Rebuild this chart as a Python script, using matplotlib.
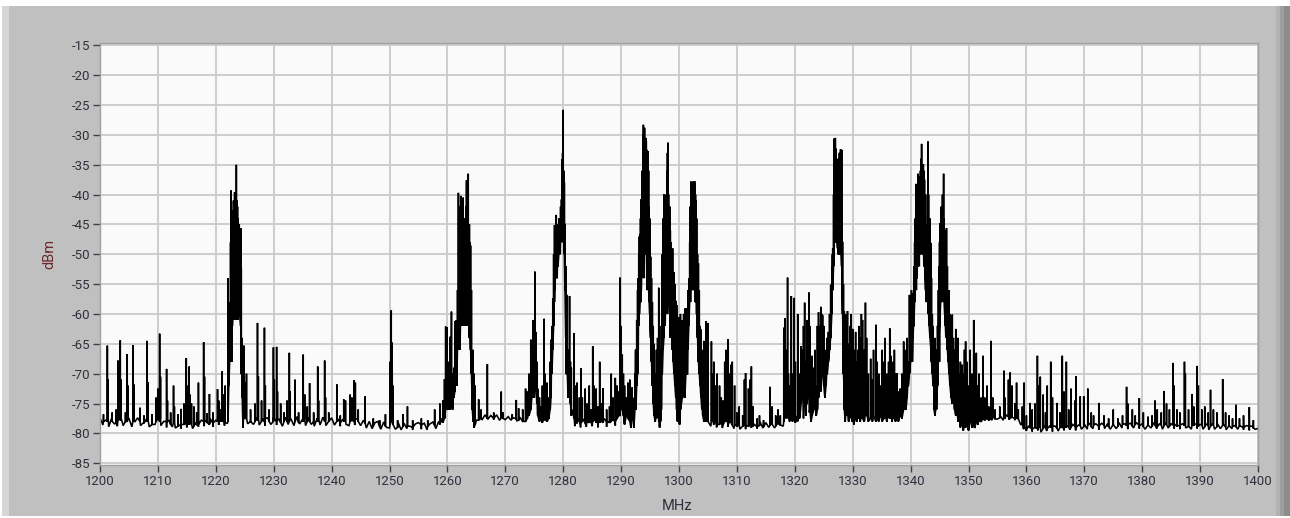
import numpy as np
import matplotlib.pyplot as plt
from matplotlib.patches import Rectangle

plt.rcParams["axes.unicode_minus"] = False

# noise floor / lower trace, one value every 0.5 MHz from 1200 to 1400
floor_start, floor_step = 1200.0, 0.5
floor_dbm = [
    -77.4, -78.6, -77.8, -78.9, -77.5, -78.4, -78.8, -77.6, -78.7, -78.0,
    -77.5, -78.9, -78.1, -77.4, -78.7, -78.2, -77.6, -78.9, -77.9, -78.5,
    -77.3, -78.7, -78.0, -79.0, -77.8, -78.9, -79.1, -78.0, -79.2, -78.4,
    -79.0, -77.9, -79.2, -78.2, -78.9, -77.8, -78.8, -78.0, -77.5, -78.9,
    -77.8, -78.6, -77.6, -78.7, -78.3, -66.0, -60.0, -60.5, -58.0, -70.0,
    -77.2, -78.4, -77.3, -78.5, -77.4, -78.6, -77.5, -78.7, -77.4, -78.5,
    -77.3, -78.6, -77.6, -78.8, -77.3, -78.5, -77.6, -78.7, -77.2, -78.4,
    -77.6, -78.7, -77.3, -78.5, -78.8, -77.5, -78.6, -77.3, -78.7, -77.6,
    -77.4, -78.6, -77.5, -78.8, -77.6, -78.5, -78.7, -77.5, -78.6, -77.7,
    -78.7, -77.8, -79.1, -78.0, -79.2, -78.2, -78.0, -79.3, -78.1, -79.0,
    -79.1, -78.0, -79.3, -78.2, -79.4, -78.3, -79.2, -78.8, -79.4, -78.4,
    -78.2, -79.3, -78.3, -79.4, -78.4, -78.1, -79.2, -78.0, -77.5, -74.0,
    -72.0, -70.0, -73.0, -66.0, -62.0, -60.0, -58.0, -62.0, -65.0, -74.0,
    -77.8, -77.0, -77.7, -76.9, -77.6, -77.0, -77.7, -76.9, -77.8, -77.1,
    -77.7, -77.2, -77.8, -77.4, -77.9, -77.3, -78.0, -77.6, -76.5, -75.0,
    -72.0, -73.0, -76.0, -77.0, -77.8, -74.0, -66.0, -58.0, -52.0, -50.0,
    -48.0, -60.0, -72.0, -76.0, -78.8, -77.5, -79.0, -77.6, -78.9, -77.7,
    -78.8, -77.6, -79.0, -77.8, -77.5, -78.9, -77.6, -77.4, -78.7, -77.2,
    -76.0, -77.5, -76.5, -78.0, -74.0, -66.0, -60.0, -56.0, -54.0, -56.0,
    -62.0, -68.0, -74.0, -78.0, -70.0, -62.0, -60.0, -64.0, -68.0, -72.0,
    -76.0, -74.0, -72.0, -70.0, -58.0, -55.0, -56.0, -66.0, -72.0, -76.0,
    -77.5, -78.8, -77.0, -79.0, -77.5, -79.1, -77.8, -78.9, -77.9, -79.2,
    -78.2, -79.3, -78.4, -79.3, -78.2, -79.1, -78.5, -79.2, -78.1, -79.1,
    -78.2, -79.0, -78.0, -79.1, -78.2, -77.8, -78.8, -77.5, -76.0, -77.5,
    -77.0, -78.0, -76.0, -77.5, -75.0, -76.5, -77.0, -74.0, -72.0, -73.0,
    -72.0, -70.0, -66.0, -50.0, -48.0, -50.0, -47.0, -72.0, -76.5, -77.5,
    -77.0, -76.0, -77.5, -76.5, -77.8, -77.0, -77.6, -77.2, -77.4, -76.5,
    -77.3, -76.8, -77.5, -77.0, -76.2, -77.2, -76.5, -77.0, -75.0, -72.0,
    -66.0, -62.0, -56.0, -52.0, -50.0, -54.0, -60.0, -66.0, -72.0, -76.0,
    -68.0, -58.0, -56.0, -64.0, -70.0, -74.0, -76.0, -77.5, -78.5, -77.6,
    -79.3, -77.8, -79.0, -77.4, -78.0, -77.0, -77.6, -77.1, -77.8, -77.0,
    -77.6, -77.1, -77.8, -76.9, -77.7, -77.0, -77.8, -77.4, -78.5, -79.3,
    -79.6, -78.7, -79.7, -78.8, -79.5, -79.8, -78.7, -79.6, -78.8, -79.7,
    -78.8, -79.6, -78.6, -79.5, -78.7, -79.4, -78.5, -79.5, -78.6, -79.3,
    -78.4, -79.3, -78.3, -79.2, -78.4, -79.4, -78.3, -79.2, -78.4, -79.3,
    -78.3, -79.2, -78.2, -79.1, -78.4, -79.3, -78.3, -79.1, -78.2, -79.2,
    -78.4, -79.3, -78.3, -79.1, -78.2, -79.2, -78.4, -79.3, -78.3, -79.1,
    -78.4, -79.2, -78.2, -79.3, -78.4, -79.1, -78.3, -79.3, -78.4, -79.2,
    -78.5, -79.3, -78.4, -79.4, -78.5, -79.3, -78.4, -79.2, -78.5, -79.4,
    -78.6, -79.2, -78.7, -79.3, -78.8, -79.4, -78.7, -79.5, -78.8, -79.3,
    -79.2,
]

# spikes: (MHz, peak dBm, base dBm)
spikes_1200 = [
    (1200.6, -76.8, -78.0), (1201.27, -65.3, -78.0), (1201.4, -71.0, -77.5), (1202.1, -76.5, -78.0),
    (1202.8, -76.0, -78.3), (1203.1, -67.8, -77.8), (1203.3, -71.5, -77.0), (1203.5, -64.4, -77.8),
    (1203.65, -71.0, -77.5), (1204.4, -76.5, -78.0), (1204.7, -66.7, -78.0), (1204.85, -72.0, -77.5),
    (1205.7, -65.2, -78.0), (1205.85, -71.8, -77.5), (1206.9, -75.7, -78.0), (1207.6, -77.0, -78.3),
    (1208.1, -64.5, -78.0), (1208.25, -71.4, -77.5), (1209.0, -76.8, -78.5), (1209.7, -74.0, -78.0),
    (1210.0, -72.5, -77.5), (1210.3, -63.3, -78.0), (1210.45, -70.5, -77.5), (1211.5, -69.2, -78.0),
    (1211.65, -74.5, -78.0), (1212.2, -76.5, -78.5), (1212.7, -72.0, -78.2), (1212.85, -75.5, -78.0),
    (1213.5, -76.8, -78.8), (1214.0, -75.9, -78.5), (1214.5, -75.0, -78.5), (1214.9, -67.4, -78.3),
    (1215.05, -74.0, -77.5), (1215.2, -72.0, -78.0), (1215.4, -68.8, -78.5), (1215.55, -73.5, -77.8),
    (1215.8, -75.0, -78.5), (1216.2, -75.5, -78.8), (1216.7, -76.5, -78.6), (1217.0, -71.5, -78.5),
    (1217.9, -64.7, -78.0), (1218.05, -70.5, -77.8), (1218.5, -76.6, -78.2), (1218.9, -73.4, -78.5),
    (1219.5, -76.5, -78.3), (1220.3, -72.6, -78.0), (1220.5, -74.5, -77.5), (1220.8, -76.0, -78.0),
    (1221.1, -69.6, -78.0), (1221.3, -73.5, -77.8), (1221.6, -72.0, -78.2),
]

band_1223 = [
    (1222.10, -54.0, -78.0), (1222.25, -66.0, -72.0), (1222.40, -58.0, -68.0), (1222.55, -48.0, -66.0),
    (1222.65, -39.3, -60.0), (1222.75, -44.0, -68.0), (1222.85, -42.6, -62.0), (1222.95, -47.0, -60.0),
    (1223.05, -41.0, -61.0), (1223.15, -45.0, -59.0), (1223.25, -39.6, -60.0), (1223.35, -44.0, -60.0),
    (1223.45, -40.0, -61.0), (1223.55, -35.0, -60.0), (1223.65, -41.0, -58.0), (1223.75, -42.0, -61.0),
    (1223.85, -44.0, -60.0), (1223.95, -47.0, -58.0), (1224.05, -45.0, -57.0), (1224.15, -48.0, -60.0),
    (1224.30, -45.6, -62.0), (1224.40, -52.4, -70.0), (1224.55, -64.0, -74.0), (1224.70, -72.0, -79.0),
    (1224.85, -65.3, -76.0), (1225.00, -71.5, -77.5), (1225.30, -70.0, -77.5),
]

spikes_1226 = [
    (1226.0, -76.0, -78.0), (1226.8, -75.0, -78.0), (1227.2, -61.5, -77.8), (1227.35, -70.5, -77.5),
    (1227.9, -74.5, -78.0), (1228.4, -62.3, -78.0), (1228.55, -72.0, -77.5), (1229.2, -76.0, -78.0),
    (1229.95, -65.6, -78.0), (1230.1, -71.0, -77.5), (1230.5, -65.5, -78.0), (1230.65, -73.0, -77.8),
    (1231.2, -75.0, -78.2), (1231.8, -76.5, -78.0), (1232.3, -74.5, -78.0), (1232.7, -66.5, -78.0),
    (1232.85, -73.0, -77.5), (1233.7, -71.0, -78.0), (1234.3, -76.5, -78.2), (1235.1, -66.8, -78.0),
    (1235.35, -73.5, -77.6), (1235.8, -75.5, -78.0), (1236.2, -71.6, -78.0), (1236.9, -76.5, -78.0),
    (1237.6, -68.8, -78.0), (1237.75, -74.5, -77.5), (1238.8, -67.8, -78.0), (1238.95, -74.0, -77.8),
    (1239.5, -76.5, -78.0), (1240.9, -71.8, -78.0), (1241.5, -77.0, -78.2), (1242.1, -74.3, -78.0),
    (1242.4, -74.5, -77.8), (1243.2, -73.5, -78.0), (1243.5, -74.0, -77.8), (1243.9, -71.1, -78.0),
    (1244.1, -71.5, -77.5), (1244.6, -76.0, -78.0), (1245.8, -73.8, -78.3), (1247.2, -77.5, -78.8),
    (1248.3, -77.8, -78.9), (1249.3, -76.8, -78.8), (1250.1, -68.0, -78.5), (1250.3, -59.4, -78.0),
    (1250.45, -64.8, -68.0), (1250.6, -72.0, -78.5), (1251.4, -77.8, -79.0), (1252.3, -76.8, -78.9),
    (1253.1, -75.5, -78.8), (1254.0, -77.8, -79.0), (1255.5, -77.5, -78.6), (1256.6, -77.8, -78.8),
    (1257.8, -76.0, -78.7), (1258.7, -75.0, -78.5),
]

band_1262 = [
    (1259.2, -74.5, -78.2), (1259.5, -70.9, -77.5), (1259.7, -62.1, -76.0), (1259.9, -62.2, -74.0),
    (1260.1, -68.0, -76.0), (1260.3, -71.0, -75.0), (1260.5, -63.8, -76.0), (1260.7, -59.6, -72.0),
    (1260.9, -70.0, -76.0), (1261.1, -69.0, -74.0), (1261.3, -61.2, -73.0), (1261.45, -61.1, -70.0),
    (1261.6, -68.0, -72.0), (1261.75, -56.0, -66.0), (1261.9, -39.7, -64.0), (1262.0, -48.0, -62.0),
    (1262.1, -45.0, -66.0), (1262.2, -42.0, -64.0), (1262.3, -40.2, -60.0), (1262.4, -47.2, -62.0),
    (1262.5, -45.0, -58.0), (1262.6, -46.6, -60.0), (1262.7, -40.5, -62.0), (1262.8, -48.0, -58.0),
    (1262.9, -46.0, -60.0), (1263.0, -44.0, -62.0), (1263.1, -47.0, -58.0), (1263.2, -42.0, -60.0),
    (1263.3, -37.6, -62.0), (1263.4, -45.0, -60.0), (1263.5, -42.0, -58.0), (1263.6, -36.5, -62.0),
    (1263.7, -46.0, -60.0), (1263.8, -45.0, -64.0), (1263.9, -48.0, -62.0), (1264.0, -48.5, -66.0),
    (1264.15, -56.0, -70.0), (1264.3, -66.9, -76.0), (1264.45, -66.0, -78.0), (1264.6, -70.0, -79.0),
    (1264.8, -72.0, -78.5), (1265.4, -74.3, -77.8), (1265.8, -76.0, -77.6), (1266.9, -68.4, -77.5),
    (1268.0, -76.5, -77.5), (1269.3, -73.0, -77.4), (1269.6, -76.5, -77.5), (1271.2, -76.8, -77.5),
    (1271.9, -74.4, -77.6), (1272.3, -75.8, -77.8), (1273.0, -76.0, -78.0),
]

band_1280 = [
    (1273.5, -72.5, -78.0), (1273.8, -73.0, -77.5), (1274.1, -70.0, -77.0), (1274.4, -64.3, -76.0),
    (1274.6, -70.0, -74.0), (1274.8, -61.0, -73.0), (1275.0, -66.0, -74.0), (1275.1, -52.9, -72.0),
    (1275.3, -63.0, -72.0), (1275.45, -68.0, -75.0), (1275.6, -72.5, -77.0), (1275.9, -74.0, -78.0),
    (1276.1, -75.5, -77.5), (1276.4, -72.0, -78.2), (1276.7, -60.8, -77.8), (1276.85, -70.0, -77.0),
    (1277.2, -71.5, -78.0), (1277.5, -74.0, -77.5), (1277.75, -68.0, -76.0), (1277.9, -64.3, -74.0),
    (1278.05, -62.0, -70.0), (1278.2, -57.4, -66.0), (1278.35, -50.0, -62.0), (1278.5, -45.1, -56.0),
    (1278.65, -46.0, -54.0), (1278.8, -43.4, -52.0), (1278.95, -45.0, -54.0), (1279.1, -47.0, -52.0),
    (1279.25, -44.0, -50.0), (1279.4, -45.0, -49.0), (1279.55, -42.0, -48.0), (1279.7, -40.8, -46.0),
    (1279.8, -34.1, -44.0), (1279.9, -33.0, -44.0), (1280.0, -25.8, -42.0), (1280.1, -36.0, -48.0),
    (1280.2, -38.0, -50.0), (1280.3, -44.9, -56.0), (1280.45, -52.0, -64.0), (1280.55, -60.0, -70.0),
    (1280.7, -56.8, -70.0), (1280.85, -66.0, -74.0), (1281.1, -57.0, -72.0), (1281.25, -68.0, -75.0),
    (1281.4, -69.0, -77.0), (1281.9, -63.2, -77.5), (1282.05, -72.0, -78.0), (1282.4, -71.5, -78.3),
    (1282.8, -74.0, -78.0), (1283.1, -69.1, -78.2), (1283.3, -74.0, -78.0), (1283.8, -72.5, -78.3),
    (1284.1, -75.0, -78.0), (1284.5, -72.0, -78.2), (1284.8, -76.0, -78.0), (1285.1, -65.4, -78.0),
    (1285.3, -72.0, -77.8), (1285.7, -72.5, -78.2), (1286.0, -75.5, -78.0), (1286.3, -68.0, -78.2),
    (1286.6, -75.0, -78.0), (1286.9, -72.4, -78.2), (1287.5, -76.0, -78.0), (1288.0, -75.5, -78.2),
    (1288.3, -70.0, -78.0), (1288.6, -74.0, -77.8), (1289.0, -70.7, -78.0), (1289.3, -72.0, -77.5),
    (1289.6, -73.0, -77.0), (1289.8, -53.9, -77.0), (1289.95, -62.0, -74.0), (1290.2, -66.8, -76.0),
    (1290.4, -70.0, -77.0), (1290.6, -72.0, -78.5), (1290.9, -74.0, -77.0), (1291.2, -71.5, -77.5),
    (1291.5, -71.0, -78.0), (1291.7, -73.0, -79.0), (1291.9, -72.3, -77.5), (1292.2, -75.0, -79.0),
    (1292.4, -70.0, -76.0),
]

band_1295 = [
    (1292.55, -66.0, -76.0), (1292.7, -61.0, -72.0), (1292.85, -56.0, -70.0), (1292.95, -54.0, -66.0),
    (1293.05, -50.0, -62.0), (1293.15, -47.0, -60.0), (1293.25, -46.7, -58.0), (1293.35, -44.0, -58.0),
    (1293.45, -40.8, -56.0), (1293.55, -42.0, -54.0), (1293.65, -36.0, -52.0), (1293.75, -30.0, -50.0),
    (1293.85, -28.3, -48.0), (1293.95, -29.5, -50.0), (1294.05, -28.8, -48.0), (1294.15, -32.0, -46.0),
    (1294.25, -30.5, -50.0), (1294.35, -31.0, -48.0), (1294.45, -32.5, -52.0), (1294.55, -33.5, -50.0),
    (1294.65, -32.7, -54.0), (1294.75, -36.0, -56.0), (1294.85, -42.0, -58.0), (1294.95, -44.0, -60.0),
    (1295.1, -50.4, -64.0), (1295.25, -54.0, -68.0), (1295.4, -58.0, -72.0), (1295.55, -62.0, -75.0),
    (1295.7, -65.0, -77.0), (1295.9, -70.0, -78.0), (1296.1, -66.0, -77.5), (1296.3, -64.0, -76.0),
    (1296.5, -55.6, -74.0), (1296.65, -66.0, -79.0), (1296.8, -72.0, -78.0), (1296.95, -62.0, -76.0),
    (1297.1, -50.0, -70.0), (1297.25, -44.0, -66.0), (1297.4, -39.9, -64.0), (1297.5, -45.0, -60.0),
    (1297.6, -44.5, -62.0), (1297.7, -48.0, -58.0), (1297.8, -40.0, -60.0), (1297.9, -36.0, -58.0),
    (1298.0, -33.0, -56.0), (1298.1, -31.3, -58.0), (1298.2, -40.0, -56.0), (1298.3, -44.0, -58.0),
    (1298.4, -42.0, -60.0), (1298.5, -46.0, -62.0), (1298.6, -48.0, -64.0), (1298.7, -50.0, -62.0),
    (1298.8, -52.0, -66.0), (1298.9, -49.0, -64.0), (1299.0, -54.0, -68.0), (1299.15, -53.0, -70.0),
    (1299.3, -55.0, -72.0), (1299.45, -57.8, -74.0), (1299.6, -58.5, -76.0), (1299.75, -64.0, -78.0),
    (1299.9, -60.5, -74.0), (1300.1, -66.0, -78.5), (1300.25, -60.0, -76.0), (1300.4, -64.0, -75.0),
    (1300.6, -61.0, -74.0), (1300.8, -60.0, -72.0), (1301.0, -59.1, -74.0), (1301.2, -59.0, -70.0),
    (1301.4, -60.0, -70.0), (1301.55, -56.0, -66.0), (1301.7, -54.0, -62.0), (1301.85, -48.0, -58.0),
    (1301.95, -42.0, -56.0), (1302.05, -37.8, -56.0), (1302.15, -39.0, -54.0), (1302.25, -38.0, -55.0),
    (1302.35, -40.0, -54.0), (1302.45, -37.8, -56.0), (1302.55, -39.0, -55.0), (1302.65, -38.5, -54.0),
    (1302.75, -37.8, -56.0), (1302.85, -40.0, -58.0), (1302.95, -41.0, -58.0), (1303.05, -44.0, -60.0),
    (1303.2, -50.0, -64.0), (1303.35, -51.5, -68.0), (1303.5, -56.0, -70.0), (1303.65, -62.0, -72.0),
    (1303.8, -62.6, -74.0), (1303.95, -66.0, -76.0), (1304.1, -68.0, -77.0), (1304.3, -64.5, -78.0),
    (1304.5, -70.0, -77.0), (1304.7, -61.2, -78.0), (1304.85, -68.0, -77.5), (1305.0, -61.5, -78.0),
]

spikes_1305 = [
    (1305.6, -64.6, -78.0), (1305.8, -70.0, -77.0), (1306.0, -68.0, -78.5), (1306.3, -72.0, -77.8),
    (1306.6, -70.0, -78.5), (1307.0, -72.0, -78.5), (1307.3, -74.0, -78.0), (1307.6, -74.5, -78.6),
    (1307.9, -68.0, -78.0), (1308.1, -66.0, -77.5), (1308.3, -70.0, -78.0), (1308.5, -64.2, -78.5),
    (1308.7, -70.0, -78.0), (1309.0, -68.5, -78.2), (1309.2, -68.0, -78.6), (1309.6, -72.0, -78.5),
    (1310.0, -76.5, -78.8), (1310.4, -75.5, -78.6), (1311.0, -77.0, -78.8), (1311.3, -71.0, -78.6),
    (1311.5, -69.9, -78.7), (1312.0, -72.5, -78.8), (1312.3, -71.0, -78.6), (1312.5, -68.8, -78.5),
    (1312.8, -75.5, -78.8), (1313.5, -77.5, -78.9), (1313.9, -77.0, -78.7), (1314.6, -77.8, -78.9),
    (1315.7, -72.2, -78.7), (1316.1, -75.5, -78.5), (1316.7, -77.0, -78.8), (1317.1, -76.0, -78.4),
    (1317.5, -77.0, -78.6),
]

band_1327 = [
    (1318.1, -62.3, -78.0), (1318.3, -60.7, -77.0), (1318.5, -66.0, -75.0), (1318.75, -53.9, -76.0),
    (1318.9, -70.0, -77.5), (1319.1, -72.0, -78.0), (1319.4, -57.0, -77.0), (1319.6, -70.0, -78.0),
    (1319.9, -57.3, -77.5), (1320.1, -68.0, -78.2), (1320.5, -60.0, -77.0), (1320.8, -70.0, -77.5),
    (1321.1, -65.4, -75.0), (1321.3, -66.0, -72.0), (1321.5, -62.0, -74.0), (1321.7, -58.1, -72.0),
    (1321.9, -68.0, -77.0), (1322.1, -61.0, -75.0), (1322.3, -66.0, -73.0), (1322.45, -56.4, -74.0),
    (1322.6, -62.0, -76.0), (1322.8, -70.0, -78.0), (1323.0, -67.0, -77.0), (1323.3, -69.0, -76.0),
    (1323.5, -66.0, -75.0), (1323.7, -72.0, -77.0), (1323.9, -62.0, -76.0), (1324.1, -59.7, -74.0),
    (1324.3, -62.0, -72.0), (1324.5, -58.8, -70.0), (1324.65, -60.0, -68.0), (1324.8, -60.2, -70.0),
    (1325.0, -62.0, -72.0), (1325.2, -66.0, -74.0), (1325.4, -66.1, -72.0), (1325.6, -64.0, -70.0),
    (1325.8, -63.0, -68.0), (1326.0, -60.0, -66.0), (1326.2, -55.1, -64.0), (1326.4, -52.0, -60.0),
    (1326.55, -49.0, -56.0), (1326.7, -40.0, -52.0), (1326.8, -30.6, -48.0), (1326.9, -33.0, -46.0),
    (1327.0, -30.5, -48.0), (1327.1, -32.3, -47.0), (1327.2, -34.0, -46.0), (1327.3, -36.0, -48.0),
    (1327.4, -35.0, -49.0), (1327.5, -34.0, -47.0), (1327.6, -35.5, -48.0), (1327.7, -33.0, -50.0),
    (1327.8, -34.5, -48.0), (1327.9, -32.4, -47.0), (1328.0, -34.0, -50.0), (1328.1, -32.5, -52.0),
    (1328.25, -47.9, -60.0), (1328.4, -55.0, -70.0), (1328.55, -59.6, -76.0), (1328.7, -62.0, -78.0),
    (1328.85, -60.0, -76.0), (1329.0, -62.5, -77.0), (1329.1, -59.5, -75.0), (1329.3, -65.0, -78.0),
    (1329.5, -62.0, -77.0), (1329.7, -60.0, -76.0), (1329.9, -64.0, -78.0), (1330.0, -62.5, -77.0),
    (1330.2, -66.0, -78.5), (1330.5, -63.0, -77.0), (1330.7, -68.0, -78.0), (1330.9, -66.0, -76.0),
    (1331.1, -62.0, -77.0), (1331.3, -64.0, -78.0), (1331.5, -60.0, -76.5), (1331.7, -61.0, -77.5),
    (1332.0, -66.0, -78.0), (1332.2, -58.1, -76.0), (1332.4, -64.0, -77.0), (1332.7, -70.0, -78.0),
    (1333.1, -67.5, -77.0), (1333.4, -71.0, -78.0), (1333.6, -66.0, -77.0), (1334.0, -61.8, -78.0),
    (1334.2, -68.0, -77.5), (1334.5, -70.0, -78.0), (1334.8, -72.0, -77.0), (1335.1, -66.0, -78.0),
    (1335.4, -68.0, -77.5), (1335.6, -64.0, -77.0), (1335.9, -70.0, -78.0), (1336.2, -68.0, -77.0),
    (1336.4, -62.4, -77.5), (1336.6, -67.0, -76.0), (1336.8, -70.0, -78.0), (1337.0, -68.0, -77.0),
    (1337.2, -66.0, -77.5), (1337.4, -70.0, -78.0), (1337.6, -69.9, -77.0), (1337.9, -73.0, -78.0),
    (1338.2, -72.5, -77.0), (1338.5, -70.0, -77.5), (1338.8, -64.6, -76.0), (1339.0, -66.0, -75.0),
    (1339.2, -70.0, -76.0), (1339.4, -64.0, -74.0), (1339.6, -68.0, -72.0), (1339.8, -56.8, -70.0),
]

band_1343 = [
    (1340.0, -58.0, -68.0), (1340.15, -56.0, -66.0), (1340.3, -60.0, -68.0), (1340.4, -56.5, -64.0),
    (1340.55, -52.0, -62.0), (1340.7, -48.0, -58.0), (1340.8, -44.0, -56.0), (1340.9, -38.2, -54.0),
    (1341.0, -42.0, -52.0), (1341.1, -39.2, -54.0), (1341.2, -44.0, -50.0), (1341.3, -36.5, -52.0),
    (1341.4, -40.0, -50.0), (1341.5, -38.0, -48.0), (1341.6, -37.0, -50.0), (1341.7, -36.0, -48.0),
    (1341.8, -34.0, -46.0), (1341.9, -31.5, -48.0), (1342.0, -36.0, -46.0), (1342.1, -35.0, -50.0),
    (1342.2, -34.9, -48.0), (1342.3, -36.0, -52.0), (1342.4, -37.5, -50.0), (1342.5, -40.0, -54.0),
    (1342.6, -48.0, -56.0), (1342.7, -45.0, -58.0), (1342.8, -50.0, -56.0), (1342.9, -40.0, -54.0),
    (1343.0, -31.1, -58.0), (1343.1, -40.0, -60.0), (1343.2, -49.5, -62.0), (1343.35, -44.0, -64.0),
    (1343.5, -48.1, -66.0), (1343.6, -54.0, -68.0), (1343.75, -60.0, -70.0), (1343.9, -62.0, -72.0),
    (1344.05, -66.0, -76.0), (1344.2, -64.0, -77.0), (1344.35, -68.0, -76.0), (1344.5, -66.0, -74.0),
    (1344.65, -62.0, -72.0), (1344.8, -56.0, -68.0), (1344.9, -52.0, -64.0), (1345.0, -48.0, -62.0),
    (1345.1, -44.8, -60.0), (1345.2, -46.0, -58.0), (1345.3, -42.0, -56.0), (1345.4, -47.0, -58.0),
    (1345.5, -40.0, -55.0), (1345.6, -45.0, -57.0), (1345.7, -36.5, -56.0), (1345.8, -44.0, -58.0),
    (1345.9, -48.0, -60.0), (1346.0, -46.0, -62.0), (1346.1, -50.0, -64.0), (1346.2, -45.6, -62.0),
    (1346.35, -52.0, -66.0), (1346.5, -58.0, -68.0), (1346.65, -56.0, -70.0), (1346.8, -60.0, -72.0),
    (1347.0, -62.0, -74.0), (1347.2, -60.1, -75.0), (1347.4, -64.0, -74.0), (1347.6, -66.0, -76.0),
    (1347.8, -62.5, -77.0), (1348.0, -66.0, -76.0), (1348.2, -64.0, -78.0), (1348.4, -70.0, -77.0),
    (1348.6, -68.0, -79.0), (1348.9, -68.5, -78.0), (1349.1, -70.0, -79.5), (1349.3, -66.0, -78.0),
    (1349.5, -64.6, -79.0), (1349.7, -68.0, -77.5), (1350.0, -72.0, -79.5), (1350.3, -66.0, -78.0),
    (1350.6, -70.0, -79.0), (1350.9, -61.0, -78.5), (1351.1, -70.0, -79.0), (1351.35, -66.5, -78.0),
    (1351.6, -72.0, -78.5), (1351.8, -70.0, -77.5), (1352.2, -74.0, -78.0), (1352.5, -67.0, -77.5),
    (1352.8, -74.0, -77.8), (1353.2, -72.0, -77.5), (1353.5, -75.5, -77.8), (1353.9, -64.5, -77.5),
    (1354.2, -74.0, -77.4), (1354.6, -76.0, -77.6), (1355.4, -75.5, -77.4), (1356.1, -69.5, -77.3),
    (1356.3, -74.0, -77.5), (1356.9, -71.0, -77.2), (1357.2, -69.8, -77.4), (1357.5, -72.0, -77.3),
    (1358.0, -75.0, -77.5), (1358.3, -71.5, -77.4), (1358.6, -76.0, -77.6),
]

spikes_1359 = [
    (1359.3, -75.5, -78.5), (1359.6, -71.5, -79.0), (1360.0, -77.0, -79.3), (1360.6, -74.9, -79.0),
    (1361.0, -76.0, -79.3), (1361.5, -75.0, -79.0), (1361.9, -67.0, -79.2), (1362.1, -72.0, -78.8),
    (1362.4, -70.5, -79.0), (1362.9, -73.5, -79.2), (1363.3, -76.5, -79.0), (1363.6, -72.0, -79.2),
    (1364.2, -68.0, -79.0), (1364.5, -74.0, -78.8), (1365.3, -74.9, -79.2), (1365.8, -76.5, -79.0),
    (1366.2, -67.0, -79.1), (1366.5, -73.0, -78.8), (1366.9, -68.0, -79.0), (1367.3, -76.0, -78.9),
    (1367.7, -72.5, -79.0), (1368.4, -74.5, -78.8), (1368.6, -70.4, -79.0), (1369.3, -73.8, -78.7),
    (1369.9, -73.8, -78.9), (1370.6, -72.5, -78.6), (1371.2, -76.5, -78.9), (1371.6, -77.0, -78.6),
    (1372.5, -74.9, -78.8), (1373.4, -77.0, -78.6), (1374.2, -77.5, -78.9), (1375.0, -76.0, -78.5),
    (1375.8, -77.5, -78.8), (1376.6, -77.0, -78.5), (1377.3, -72.2, -78.7), (1377.5, -75.0, -78.5),
    (1378.3, -76.0, -78.8), (1378.8, -77.0, -78.5), (1379.5, -74.1, -78.7), (1380.2, -76.5, -78.9),
    (1381.0, -77.2, -78.6), (1381.7, -77.0, -78.8), (1382.2, -74.5, -78.6), (1382.6, -76.0, -78.9),
    (1383.3, -76.5, -78.6), (1383.8, -72.9, -78.7), (1384.2, -75.0, -78.5), (1384.7, -76.0, -78.8),
    (1385.3, -68.2, -78.6), (1385.5, -72.0, -78.4), (1386.0, -76.0, -78.8), (1386.5, -76.5, -78.6),
    (1387.3, -68.0, -78.7), (1387.45, -70.0, -78.5), (1388.0, -76.0, -78.8), (1388.6, -73.4, -78.6),
    (1388.9, -75.5, -78.7), (1389.5, -68.7, -78.5), (1389.7, -72.0, -78.8), (1390.3, -76.0, -78.6),
    (1390.8, -75.5, -78.9), (1391.4, -76.5, -78.7), (1391.8, -72.7, -78.8), (1392.3, -76.0, -78.6),
    (1392.9, -76.5, -78.9), (1393.9, -70.9, -78.7), (1394.4, -76.5, -78.9), (1395.0, -77.0, -78.7),
    (1395.6, -77.5, -78.8), (1396.2, -75.2, -78.9), (1396.8, -77.5, -78.7), (1397.5, -77.0, -79.0),
    (1398.5, -75.6, -78.8), (1399.2, -77.8, -79.1),
]

y_ticks = list(range(-85, -10, 5))
x_ticks = list(range(1200, 1401, 10))

# build the trace: floor samples plus each spike as base -> peak -> base
pts = [(floor_start + i * floor_step, v) for i, v in enumerate(floor_dbm)]
for group in (spikes_1200, band_1223, spikes_1226, band_1262, band_1280,
              band_1295, spikes_1305, band_1327, band_1343, spikes_1359):
    for f, top, low in group:
        pts += [(f - 0.012, low), (f, top), (f + 0.012, low)]
pts.sort(key=lambda p: p[0])
freq = np.array([p[0] for p in pts])
level = np.array([p[1] for p in pts])

W, H = 1290, 518
fig = plt.figure(figsize=(W / 100, H / 100), dpi=100)
fig.patch.set_facecolor("white")

def px_rect(x0, y0, x1, y1, color):
    fig.add_artist(Rectangle((x0 / W, 1 - y1 / H), (x1 - x0) / W, (y1 - y0) / H,
                             transform=fig.transFigure, facecolor=color,
                             edgecolor="none", zorder=-10))

# LabVIEW style panel
px_rect(2, 6, 1290, 516, "#c0c0c0")
px_rect(2, 6, 9, 516, "#d6d6d6")
px_rect(1276, 6, 1280, 516, "#b2b2b2")
px_rect(1280, 6, 1284, 516, "#9e9e9e")
px_rect(1284, 6, 1290, 516, "#8c8c8c")

ax = fig.add_axes([100 / W, 1 - 465 / H, 1158 / W, 422 / H])
ax.set_facecolor("#fafafa")
ax.plot(freq, level, color="black", lw=1.15, solid_joinstyle="miter")

ax.set_xlim(1200, 1400)
ax.set_ylim(-85.3, -14.6)
ax.set_xticks(x_ticks)
ax.set_yticks(y_ticks)
ax.grid(True, color="#cacaca", lw=1.3)
ax.set_axisbelow(True)

font = ["Roboto", "DejaVu Sans"]
tick_color = "#30303c"
ax.tick_params(axis="both", direction="out", length=5, width=1, color="#404040",
               labelcolor=tick_color, labelsize=9.5, pad=2)
for lab in ax.get_xticklabels() + ax.get_yticklabels():
    lab.set_family(font)
for side in ("top", "left", "bottom", "right"):
    ax.spines[side].set_color("#a0a0a0")
    ax.spines[side].set_linewidth(1.0)

fig.text(49 / W, 1 - 254 / H, "dBm", rotation=90, ha="center", va="center",
         fontsize=10.5, color="#6a2a2a", family=font)
fig.text(677 / W, 1 - 506 / H, "MHz", ha="center", va="center",
         fontsize=10.5, color="#30303c", family=font)

fig.savefig("out.png", dpi=100)
